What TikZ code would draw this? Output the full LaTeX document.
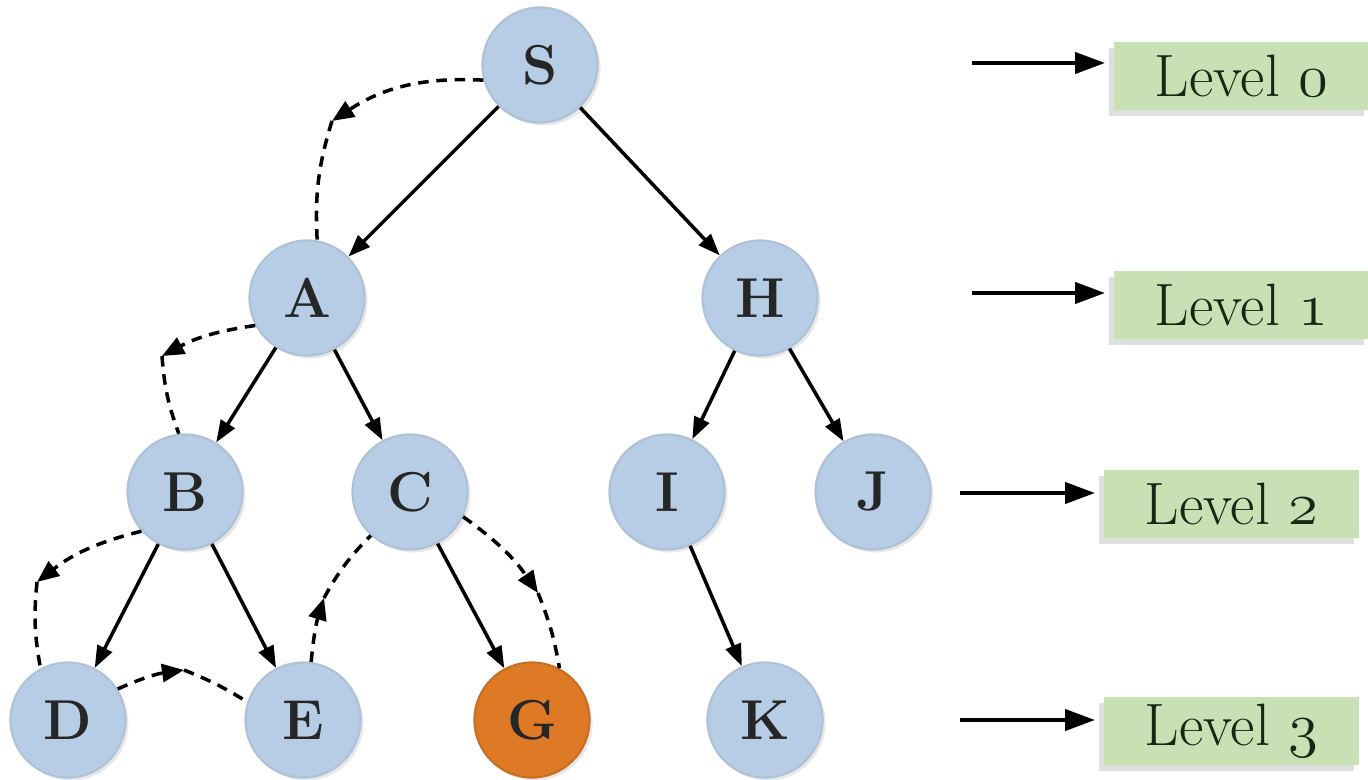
\documentclass[tikz,border=0pt]{standalone}
\usetikzlibrary{arrows.meta,shadows}
\newcommand\osnum[1]{{\fontencoding{OML}\fontfamily{cmm}\fontseries{m}\fontshape{it}\selectfont #1}}
\definecolor{nodeblue}{RGB}{183,205,229}
\definecolor{nodeorange}{RGB}{222,122,38}
\definecolor{boxgreen}{RGB}{199,225,180}
\definecolor{txtgreen}{RGB}{20,40,20}
\tikzset{
  vert/.style={circle,fill=nodeblue,draw=nodeblue!85!gray,line width=0.6pt,minimum size=1.15cm,inner sep=0pt,
    font=\fontsize{16}{18}\selectfont\bfseries,text=black!85,
    drop shadow={opacity=0.18,shadow xshift=0.3mm,shadow yshift=-0.3mm}},
  goal/.style={vert,fill=nodeorange,draw=nodeorange!90!black},
  lvl/.style={rectangle,fill=boxgreen,minimum width=2.55cm,minimum height=0.67cm,inner sep=0pt,
    font=\fontsize{17}{19}\selectfont,text=txtgreen,
    drop shadow={opacity=0.25,shadow xshift=-0.5mm,shadow yshift=-0.6mm}},
  edge/.style={line width=1pt,-{Triangle[length=2.2mm,width=1.6mm]}},
  lvlarrow/.style={line width=1.2pt,-{Triangle[length=3mm,width=2.1mm]}},
  dashline/.style={line width=1pt,dash pattern=on 3pt off 2.2pt},
  dhead/.style={dashline,-{Triangle[length=2.2mm,width=1.8mm]}}
}
\begin{document}
\begin{tikzpicture}[x=0.01cm,y=-0.01cm]
\useasboundingbox (0,0) rectangle (1368,780);
% nodes
\node[vert] (S) at (540,65) {S};
\node[vert] (A) at (307,298) {A};
\node[vert] (H) at (760,298) {H};
\node[vert] (B) at (185,492) {B};
\node[vert] (C) at (410,492) {C};
\node[vert] (I) at (667,492) {I};
\node[vert] (J) at (873,492) {J};
\node[vert] (D) at (68,720) {D};
\node[vert] (E) at (303,720) {E};
\node[goal] (G) at (532,720) {G};
\node[vert] (K) at (765,720) {K};
% tree edges
\draw[edge] (S) -- (A);
\draw[edge] (S) -- (H);
\draw[edge] (A) -- (B);
\draw[edge] (A) -- (C);
\draw[edge] (H) -- (I);
\draw[edge] (H) -- (J);
\draw[edge] (B) -- (D);
\draw[edge] (B) -- (E);
\draw[edge] (C) -- (G);
\draw[edge] (I) -- (K);
% search order (dashed), arrowhead at each bend
\coordinate (c1) at (332,121);
\coordinate (c2) at (162,356);
\coordinate (c3) at (37,582);
\coordinate (c4) at (184,670);
\coordinate (c5) at (324,598);
\coordinate (c6) at (538,593);
\draw[dhead] (S.195) to[bend right=18] (c1);
\draw[dashline] (c1) to[bend right=10] (A.80);
\draw[dhead] (A.208) to[bend right=10] (c2);
\draw[dashline] (c2) to[bend right=8] (B.96);
\draw[dhead] (B.222) to[bend right=12] (c3);
\draw[dashline] (c3) to[bend right=8] (D.118);
\draw[dhead] (D.32) to[bend left=8] (c4);
\draw[dashline] (c4) to[bend left=5] (E.162);
\draw[dhead] (E.82) to[bend left=6] (c5);
\draw[dashline] (c5) to[bend left=8] (C.228);
\draw[dhead] (C.335) to[bend left=10] (c6);
\draw[dashline] (c6) to[bend left=6] (G.62);
% levels
\node[lvl,anchor=west] (L0) at (1113,76) {Level \osnum{0}};
\node[lvl,anchor=west] (L1) at (1113,305) {Level \osnum{1}};
\node[lvl,anchor=west] (L2) at (1103,504) {Level \osnum{2}};
\node[lvl,anchor=west] (L3) at (1103,731) {Level \osnum{3}};
\coordinate (a0) at (972,63);
\coordinate (a1) at (972,293);
\coordinate (a2) at (960,493);
\coordinate (a3) at (960,720);
\draw[lvlarrow] (a0) -- ([xshift=-0.08cm]a0 -| L0.west);
\draw[lvlarrow] (a1) -- ([xshift=-0.08cm]a1 -| L1.west);
\draw[lvlarrow] (a2) -- ([xshift=-0.08cm]a2 -| L2.west);
\draw[lvlarrow] (a3) -- ([xshift=-0.08cm]a3 -| L3.west);
\end{tikzpicture}
\end{document}
